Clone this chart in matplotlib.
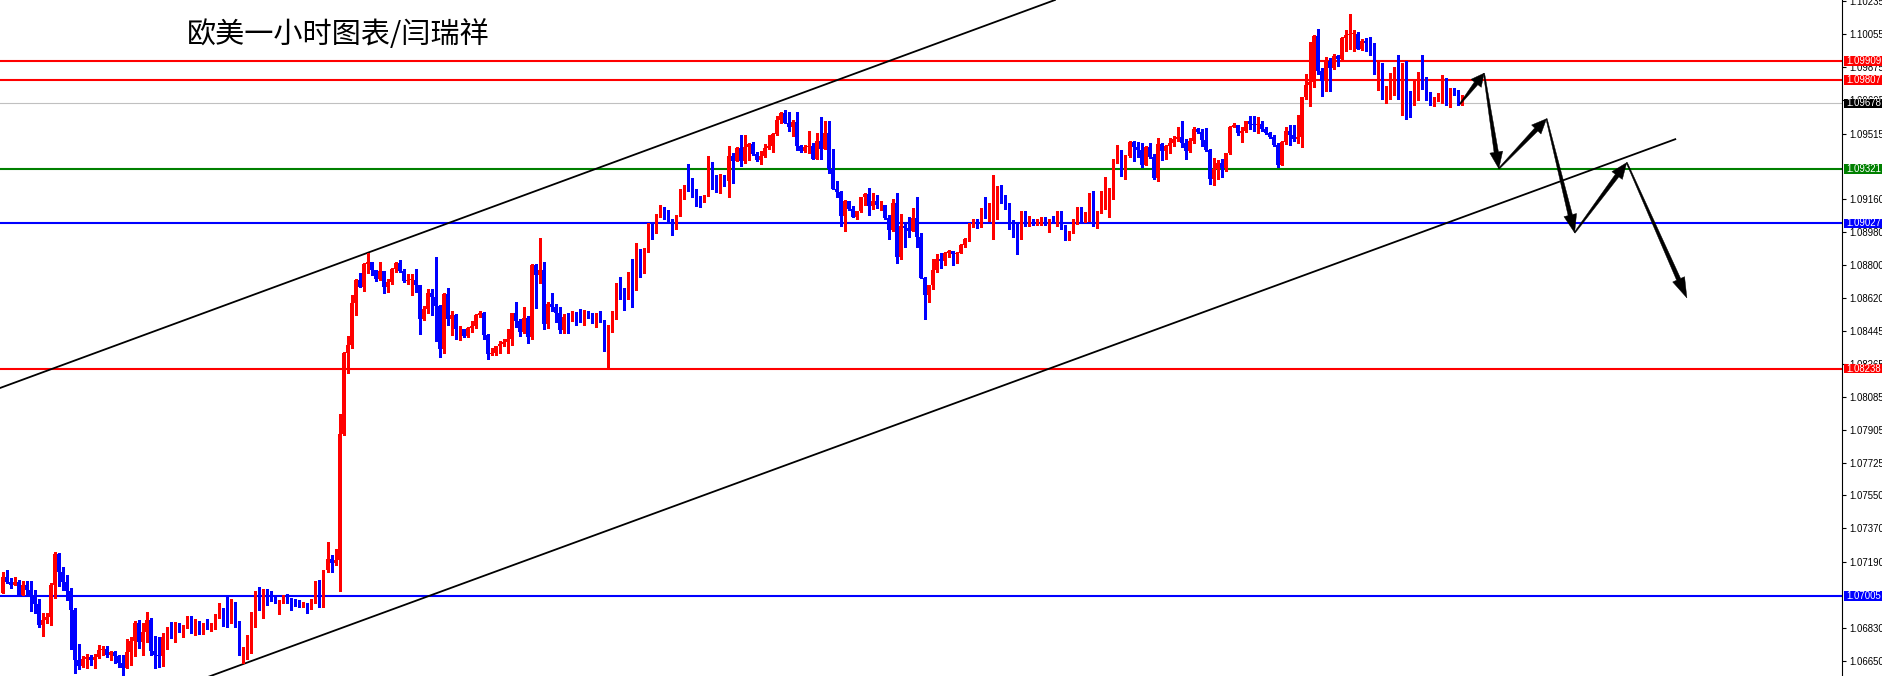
import numpy as np
import matplotlib
matplotlib.use('Agg')
import matplotlib.pyplot as plt
from matplotlib.patches import Polygon, Rectangle
from matplotlib.transforms import IdentityTransform

# EURUSD 1h candles, open of the first candle
first_open = 1.07022

closes = [
    # 1-62
    1.07105, 1.07080, 1.07065, 1.07080, 1.07007, 1.07061, 1.07036, 1.07007, 1.06960, 1.06848,
    1.06873, 1.06891, 1.07061, 1.07232, 1.07134, 1.07080, 1.07032, 1.06927, 1.06656, 1.06623,
    1.06663, 1.06670, 1.06656, 1.06670, 1.06710, 1.06718, 1.06685, 1.06699, 1.06678, 1.06642,
    1.06613, 1.06699, 1.06757, 1.06855, 1.06754, 1.06808, 1.06873, 1.06707, 1.06685, 1.06678,
    1.06783, 1.06801, 1.06783, 1.06841, 1.06826, 1.06833, 1.06895, 1.06826, 1.06855, 1.06815,
    1.06844, 1.06826, 1.06844, 1.06888, 1.06917, 1.06902, 1.06880, 1.06960, 1.06859, 1.06710,
    1.06710, 1.06757,
    # 63-124
    1.06879, 1.06982, 1.06939, 1.06997, 1.06982, 1.06979, 1.06968, 1.06979, 1.07000, 1.06982,
    1.06971, 1.06968, 1.06953, 1.06953, 1.06942, 1.06986, 1.07055, 1.06964, 1.07145, 1.07203,
    1.07181, 1.07199, 1.07884, 1.08322, 1.08365, 1.08593, 1.08720, 1.08684, 1.08807, 1.08818,
    1.08774, 1.08723, 1.08767, 1.08684, 1.08709, 1.08778, 1.08810, 1.08767, 1.08716, 1.08720,
    1.08720, 1.08691, 1.08510, 1.08561, 1.08647, 1.08626, 1.08579, 1.08347, 1.08644, 1.08510,
    1.08528, 1.08452, 1.08456, 1.08416, 1.08459, 1.08470, 1.08528, 1.08542, 1.08419, 1.08318,
    1.08325, 1.08361,
    # 125-187
    1.08372, 1.08383, 1.08401, 1.08542, 1.08498, 1.08437, 1.08513, 1.08408, 1.08803, 1.08748,
    1.08774, 1.08480, 1.08589, 1.08574, 1.08542, 1.08448, 1.08517, 1.08513, 1.08524, 1.08520,
    1.08517, 1.08546, 1.08524, 1.08488, 1.08524, 1.08498, 1.08368, 1.08470, 1.08517, 1.08698,
    1.08651, 1.08618, 1.08705, 1.08676, 1.08857, 1.08770, 1.08893, 1.09020, 1.08980, 1.09074,
    1.09114, 1.09081, 1.09041, 1.08998, 1.09070, 1.09212, 1.09230, 1.09204, 1.09172, 1.09154,
    1.09143, 1.09179, 1.09360, 1.09248, 1.09212, 1.09288, 1.09255, 1.09393, 1.09367, 1.09436,
    1.09364, 1.09443, 1.09458,
    # 188-250
    1.09403, 1.09371, 1.09393, 1.09436, 1.09447, 1.09512, 1.09588, 1.09624, 1.09574, 1.09548,
    1.09577, 1.09447, 1.09422, 1.09443, 1.09447, 1.09378, 1.09472, 1.09429, 1.09519, 1.09320,
    1.09212, 1.09197, 1.09067, 1.09146, 1.09103, 1.09063, 1.09096, 1.09168, 1.09186, 1.09121,
    1.09150, 1.09125, 1.09125, 1.09056, 1.08991, 1.09136, 1.08842, 1.09013, 1.09002, 1.08987,
    1.09056, 1.08955, 1.08730, 1.08640, 1.08690, 1.08774, 1.08832, 1.08824, 1.08868, 1.08879,
    1.08860, 1.08868, 1.08908, 1.08940, 1.09027, 1.09038, 1.09013, 1.09092, 1.09067, 1.09128,
    1.09172, 1.09222, 1.09179,
    # 251-312
    1.09133, 1.09024, 1.09006, 1.08948, 1.09089, 1.09046, 1.09049, 1.09024, 1.09028, 1.09046,
    1.09031, 1.09046, 1.09031, 1.09060, 1.09010, 1.08944, 1.08981, 1.09028, 1.09111, 1.09060,
    1.09075, 1.09183, 1.09013, 1.09089, 1.09133, 1.09162, 1.09216, 1.09357, 1.09390, 1.09321,
    1.09393, 1.09469, 1.09444, 1.09426, 1.09346, 1.09440, 1.09386, 1.09274, 1.09458, 1.09419,
    1.09448, 1.09466, 1.09487, 1.09495, 1.09466, 1.09419, 1.09473, 1.09538, 1.09524, 1.09480,
    1.09426, 1.09270, 1.09321, 1.09353, 1.09328, 1.09408, 1.09553, 1.09563, 1.09520, 1.09531,
    1.09582, 1.09567,
    # 313-365
    1.09559, 1.09567, 1.09541, 1.09516, 1.09498, 1.09454, 1.09346, 1.09469, 1.09527, 1.09509,
    1.09487, 1.09498, 1.09711, 1.09777, 1.09795, 1.10045, 1.09856, 1.09798, 1.09907, 1.09871,
    1.09936, 1.09918, 1.10034, 1.10048, 1.10055, 1.10055, 1.09976, 1.10016, 1.10008, 1.10005,
    1.09838, 1.09892, 1.09730, 1.09759, 1.09838, 1.09845, 1.09715, 1.09759, 1.09737, 1.09675,
    1.09751, 1.09838, 1.09816, 1.09711, 1.09675, 1.09701, 1.09722, 1.09816, 1.09679, 1.09759,
    1.09733, 1.09675, 1.09678,
]

highs = [
    1.07132, 1.07145, 1.07101, 1.07105, 1.07090, 1.07083, 1.07083, 1.07083, 1.07036, 1.06985,
    1.06909, 1.06909, 1.07072, 1.07242, 1.07235, 1.07163, 1.07116, 1.07047, 1.06938, 1.06743,
    1.06678, 1.06689, 1.06685, 1.06689, 1.06736, 1.06732, 1.06732, 1.06707, 1.06703, 1.06685,
    1.06681, 1.06768, 1.06783, 1.06866, 1.06873, 1.06855, 1.06917, 1.06884, 1.06786, 1.06783,
    1.06801, 1.06833, 1.06862, 1.06862, 1.06855, 1.06844, 1.06895, 1.06895, 1.06877, 1.06866,
    1.06855, 1.06877, 1.06855, 1.06906, 1.06964, 1.06938, 1.07004, 1.06985, 1.06971, 1.06870,
    1.06725, 1.06790,
    1.06917, 1.07033, 1.07055, 1.07044, 1.07040, 1.07029, 1.07000, 1.06982, 1.07007, 1.07015,
    1.06993, 1.06986, 1.06982, 1.06971, 1.06964, 1.06989, 1.07084, 1.07091, 1.07145, 1.07297,
    1.07228, 1.07257, 1.07992, 1.08326, 1.08416, 1.08637, 1.08723, 1.08756, 1.08814, 1.08865,
    1.08818, 1.08763, 1.08818, 1.08770, 1.08727, 1.08785, 1.08818, 1.08828, 1.08781, 1.08752,
    1.08752, 1.08781, 1.08694, 1.08579, 1.08673, 1.08669, 1.08846, 1.08586, 1.08647, 1.08676,
    1.08553, 1.08535, 1.08470, 1.08456, 1.08463, 1.08499, 1.08535, 1.08550, 1.08546, 1.08427,
    1.08351, 1.08361,
    1.08390, 1.08401, 1.08455, 1.08542, 1.08600, 1.08509, 1.08571, 1.08524, 1.08806, 1.08806,
    1.08947, 1.08817, 1.08600, 1.08651, 1.08589, 1.08571, 1.08535, 1.08542, 1.08549, 1.08546,
    1.08564, 1.08556, 1.08553, 1.08538, 1.08542, 1.08553, 1.08502, 1.08473, 1.08549, 1.08705,
    1.08734, 1.08676, 1.08763, 1.08835, 1.08918, 1.08886, 1.08893, 1.09027, 1.09034, 1.09078,
    1.09125, 1.09099, 1.09099, 1.09052, 1.09074, 1.09215, 1.09237, 1.09349, 1.09273, 1.09215,
    1.09175, 1.09183, 1.09393, 1.09360, 1.09288, 1.09295, 1.09291, 1.09447, 1.09411, 1.09440,
    1.09505, 1.09508, 1.09461,
    1.09469, 1.09414, 1.09422, 1.09458, 1.09508, 1.09519, 1.09610, 1.09632, 1.09642, 1.09632,
    1.09588, 1.09632, 1.09454, 1.09451, 1.09527, 1.09461, 1.09516, 1.09603, 1.09581, 1.09581,
    1.09429, 1.09259, 1.09201, 1.09154, 1.09150, 1.09121, 1.09096, 1.09172, 1.09190, 1.09219,
    1.09194, 1.09179, 1.09146, 1.09128, 1.09070, 1.09157, 1.09190, 1.09078, 1.09031, 1.09063,
    1.09110, 1.09168, 1.08973, 1.08737, 1.08694, 1.08832, 1.08860, 1.08868, 1.08871, 1.08882,
    1.08871, 1.08871, 1.08915, 1.08947, 1.09031, 1.09049, 1.09049, 1.09110, 1.09168, 1.09136,
    1.09288, 1.09230, 1.09233,
    1.09183, 1.09140, 1.09046, 1.09035, 1.09093, 1.09093, 1.09068, 1.09053, 1.09053, 1.09060,
    1.09064, 1.09049, 1.09068, 1.09093, 1.09096, 1.09017, 1.08988, 1.09049, 1.09115, 1.09115,
    1.09089, 1.09191, 1.09201, 1.09093, 1.09201, 1.09277, 1.09220, 1.09375, 1.09451, 1.09426,
    1.09397, 1.09477, 1.09473, 1.09469, 1.09466, 1.09448, 1.09466, 1.09401, 1.09491, 1.09466,
    1.09451, 1.09491, 1.09502, 1.09553, 1.09582, 1.09487, 1.09491, 1.09553, 1.09545, 1.09542,
    1.09545, 1.09433, 1.09382, 1.09372, 1.09379, 1.09411, 1.09556, 1.09571, 1.09563, 1.09553,
    1.09585, 1.09611,
    1.09610, 1.09606, 1.09581, 1.09549, 1.09523, 1.09505, 1.09465, 1.09473, 1.09549, 1.09559,
    1.09563, 1.09614, 1.09715, 1.09838, 1.10012, 1.10052, 1.10081, 1.09871, 1.09929, 1.09925,
    1.09947, 1.09940, 1.10041, 1.10077, 1.10164, 1.10077, 1.10066, 1.10026, 1.10034, 1.10037,
    1.10008, 1.09903, 1.09896, 1.09773, 1.09842, 1.09874, 1.09943, 1.09900, 1.09911, 1.09748,
    1.09806, 1.09849, 1.09943, 1.09824, 1.09740, 1.09711, 1.09733, 1.09831, 1.09816, 1.09762,
    1.09762, 1.09751, 1.09722,
]

lows = [
    1.07018, 1.07076, 1.07047, 1.07065, 1.07007, 1.07007, 1.07007, 1.06924, 1.06909, 1.06833,
    1.06786, 1.06859, 1.06848, 1.06993, 1.07058, 1.07036, 1.06982, 1.06714, 1.06584, 1.06605,
    1.06620, 1.06613, 1.06627, 1.06613, 1.06667, 1.06681, 1.06674, 1.06656, 1.06642, 1.06620,
    1.06569, 1.06613, 1.06631, 1.06678, 1.06721, 1.06685, 1.06754, 1.06685, 1.06613, 1.06616,
    1.06623, 1.06718, 1.06775, 1.06754, 1.06808, 1.06783, 1.06830, 1.06804, 1.06794, 1.06797,
    1.06797, 1.06826, 1.06812, 1.06823, 1.06884, 1.06841, 1.06833, 1.06855, 1.06837, 1.06685,
    1.06638, 1.06660,
    1.06694, 1.06837, 1.06928, 1.06884, 1.06957, 1.06975, 1.06964, 1.06903, 1.06968, 1.06968,
    1.06928, 1.06950, 1.06946, 1.06946, 1.06913, 1.06935, 1.06964, 1.06946, 1.06946, 1.07134,
    1.07134, 1.07170, 1.07029, 1.07880, 1.08217, 1.08351, 1.08528, 1.08681, 1.08662, 1.08760,
    1.08745, 1.08713, 1.08720, 1.08647, 1.08655, 1.08698, 1.08763, 1.08763, 1.08709, 1.08698,
    1.08637, 1.08655, 1.08427, 1.08503, 1.08542, 1.08528, 1.08387, 1.08303, 1.08322, 1.08474,
    1.08419, 1.08401, 1.08394, 1.08412, 1.08409, 1.08437, 1.08459, 1.08521, 1.08401, 1.08289,
    1.08311, 1.08311,
    1.08321, 1.08361, 1.08321, 1.08365, 1.08466, 1.08415, 1.08430, 1.08379, 1.08397, 1.08567,
    1.08705, 1.08451, 1.08459, 1.08549, 1.08491, 1.08433, 1.08433, 1.08430, 1.08498, 1.08473,
    1.08491, 1.08477, 1.08513, 1.08484, 1.08466, 1.08491, 1.08336, 1.08241, 1.08437, 1.08509,
    1.08614, 1.08556, 1.08614, 1.08574, 1.08665, 1.08734, 1.08759, 1.08871, 1.08944, 1.08976,
    1.09063, 1.09052, 1.09034, 1.08962, 1.09002, 1.09067, 1.09161, 1.09204, 1.09168, 1.09121,
    1.09117, 1.09143, 1.09175, 1.09212, 1.09197, 1.09190, 1.09230, 1.09172, 1.09248, 1.09364,
    1.09338, 1.09356, 1.09371,
    1.09396, 1.09367, 1.09349, 1.09389, 1.09429, 1.09414, 1.09508, 1.09570, 1.09570, 1.09527,
    1.09501, 1.09425, 1.09414, 1.09414, 1.09407, 1.09378, 1.09375, 1.09378, 1.09429, 1.09302,
    1.09212, 1.09172, 1.09013, 1.08987, 1.09099, 1.09063, 1.09052, 1.09089, 1.09125, 1.09074,
    1.09103, 1.09110, 1.09099, 1.09052, 1.08944, 1.08987, 1.08813, 1.08835, 1.08900, 1.08955,
    1.08984, 1.08900, 1.08730, 1.08509, 1.08600, 1.08669, 1.08763, 1.08784, 1.08799, 1.08846,
    1.08803, 1.08810, 1.08864, 1.08900, 1.08929, 1.09005, 1.09002, 1.09009, 1.09056, 1.09041,
    1.08944, 1.09049, 1.09139,
    1.09107, 1.08995, 1.08955, 1.08858, 1.08944, 1.09013, 1.09010, 1.09020, 1.09020, 1.09017,
    1.09017, 1.08981, 1.09028, 1.09010, 1.08999, 1.08937, 1.08937, 1.08973, 1.09024, 1.09035,
    1.09035, 1.09039, 1.09010, 1.09002, 1.09086, 1.09104, 1.09060, 1.09162, 1.09353, 1.09285,
    1.09270, 1.09386, 1.09368, 1.09390, 1.09332, 1.09408, 1.09382, 1.09267, 1.09259, 1.09372,
    1.09379, 1.09408, 1.09448, 1.09477, 1.09444, 1.09379, 1.09415, 1.09466, 1.09516, 1.09448,
    1.09422, 1.09241, 1.09238, 1.09267, 1.09281, 1.09314, 1.09404, 1.09549, 1.09509, 1.09469,
    1.09524, 1.09542,
    1.09530, 1.09516, 1.09530, 1.09512, 1.09491, 1.09447, 1.09335, 1.09346, 1.09458, 1.09454,
    1.09476, 1.09462, 1.09444, 1.09704, 1.09664, 1.09766, 1.09838, 1.09719, 1.09748, 1.09748,
    1.09867, 1.09882, 1.09911, 1.09965, 1.09972, 1.09961, 1.09972, 1.09968, 1.09965, 1.09940,
    1.09838, 1.09751, 1.09704, 1.09679, 1.09701, 1.09726, 1.09704, 1.09617, 1.09592, 1.09606,
    1.09672, 1.09697, 1.09759, 1.09697, 1.09672, 1.09664, 1.09693, 1.09679, 1.09672, 1.09661,
    1.09726, 1.09672, 1.09672,
]

# horizontal levels and their price tags
levels = [1.09909, 1.09807, 1.09678, 1.09321, 1.09027, 1.08238, 1.07005]
level_colors = ['#ff0000', '#ff0000', '#c0c0c0', '#008000', '#0000ff', '#ff0000', '#0000ff']
tag_colors = ['#ff0000', '#ff0000', '#000000', '#008000', '#0000ff', '#ff0000', '#0000ff']

tick_values = [1.10235, 1.10055, 1.09875, 1.09695, 1.09515, 1.09160, 1.08980, 1.08800,
               1.08620, 1.08445, 1.08265, 1.08085, 1.07905, 1.07725, 1.07550, 1.07370,
               1.07190, 1.06830, 1.06650]

# channel lines (candle index, price)
upper_channel = [(-0.67, 1.08133), (262.4, 1.10240)]
lower_channel = [(49.2, 1.06548), (417.1, 1.09484)]

# forecast zig-zag drawn with arrows
arrow_path = [(363.4, 1.09675), (369.4, 1.09842), (373.1, 1.09324), (385.0, 1.09595),
              (392.0, 1.08976), (405.0, 1.09357), (420.0, 1.08622)]

title = '欧美一小时图表/闫瑞祥'

W, H = 1883, 676
fig = plt.figure(figsize=(W / 100, H / 100), dpi=100)
fig.patch.set_facecolor('white')
ax = fig.add_axes([0, 0, 1842 / W, 1])
ax.set_xlim(-0.673, 458.68)
ax.set_ylim(1.06569, 1.10240)

# candles
closes_a = np.array(closes)
opens_a = np.array([first_open] + closes[:-1])
x = np.arange(len(closes_a))
up = closes_a >= opens_a
cols = np.where(up, '#ff0000', '#0000ff')
body_lo = np.minimum(opens_a, closes_a)
body_hi = np.maximum(opens_a, closes_a)
hi = np.maximum(np.array(highs), body_hi)
lo = np.minimum(np.array(lows), body_lo)
ax.vlines(x, lo, hi, colors=cols, linewidth=0.8, antialiased=False, zorder=3)
ax.bar(x, np.maximum(body_hi - body_lo, 0.00004), bottom=body_lo, width=0.8,
       color=cols, linewidth=0, zorder=3)

# levels
for lvl, c in zip(levels, level_colors):
    ax.axhline(lvl, color=c, linewidth=0.8 if c == '#c0c0c0' else 1.5, zorder=2)

# channel
ax.axline(upper_channel[0], upper_channel[1], color='black', linewidth=1.3, zorder=2)
ax.plot([p[0] for p in lower_channel], [p[1] for p in lower_channel],
        color='black', linewidth=1.3, zorder=2)

# right price axis
for s in ['top', 'left', 'bottom']:
    ax.spines[s].set_visible(False)
ax.spines['right'].set_linewidth(0.8)
ax.set_xticks([])
ax.yaxis.tick_right()
ax.set_yticks(tick_values)
ax.set_yticklabels([f'{v:.5f}' for v in tick_values], family='Liberation Sans')
ax.tick_params(axis='y', direction='out', length=3, width=0.8, pad=2, labelsize=6.9)

# price tags
half = 4.8 / 18413
for lvl, c in zip(levels, tag_colors):
    ax.add_patch(Rectangle((1844 / 1842, lvl - half), 39 / 1842, 2 * half,
                           transform=ax.get_yaxis_transform(), facecolor=c,
                           edgecolor='none', clip_on=False, zorder=6))
    ax.text(1863.5 / 1842, lvl, f'{lvl:.5f}', transform=ax.get_yaxis_transform(),
            ha='center', va='center', color='white', fontsize=6.9,
            family='Liberation Sans', zorder=7, clip_on=False)

# arrows as tapered polygons in pixel space
pts = ax.transData.transform(np.array(arrow_path))
for s, t in zip(pts[:-1], pts[1:]):
    d = t - s
    L = np.hypot(*d)
    u = d / L
    nrm = np.array([-u[1], u[0]])
    hl = 10 + 0.07 * L
    b = t - u * hl
    poly = [s + nrm * 0.6, b + nrm * 2.2, b + nrm * 6.5, t,
            b - nrm * 6.5, b - nrm * 2.2, s - nrm * 0.6]
    fig.add_artist(Polygon(poly, closed=True, facecolor='black', edgecolor='black',
                           linewidth=0.3, transform=IdentityTransform(), zorder=8))

fig.text(187 / W, 1 - 35 / H, title, fontsize=21, va='center', ha='left',
         family=['Noto Sans CJK SC', 'DejaVu Sans'])

fig.savefig('out.png', dpi=100, facecolor='white')
